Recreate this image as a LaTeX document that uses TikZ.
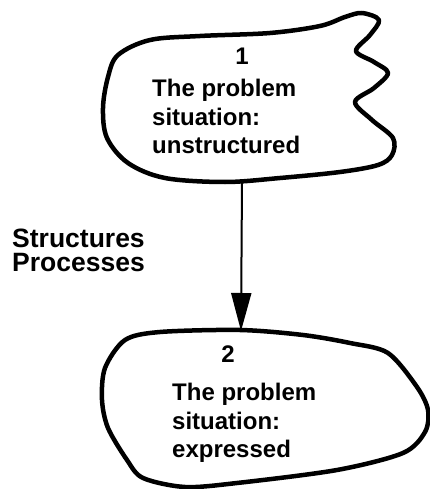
\documentclass[tikz,border=0pt]{standalone}
\usepackage{fontspec}
\setmainfont{Liberation Sans}
\usetikzlibrary{arrows.meta}
\begin{document}
\begin{tikzpicture}[x=1pt,y=-1pt,
  blob/.style={line width=4.5pt, line join=round},
  txt/.style={inner sep=0pt, align=left, anchor=north west,
    font=\bfseries\fontsize{24}{28.5}\selectfont},
  num/.style={inner sep=0pt, anchor=base, font=\bfseries\fontsize{24}{28.5}\selectfont},
  flow/.style={line width=2pt, -{Triangle[width=20pt,length=38pt]}}]
\useasboundingbox (0,0) rectangle (429,489);

% upper cloud: the unstructured situation
\draw[blob] plot[smooth cycle, tension=0.55] coordinates {
  (118,55) (150,40) (200,36) (270,33) (320,26) (345,17) (362,13)
  (379,20) (370,35) (356,51) (374,62) (388,73) (374,88) (355,102)
  (372,120) (393,138) (392,155) (378,165) (340,172) (280,178)
  (225,182) (165,178) (128,163) (107,138) (103,108) (108,77)};

% lower cloud: the expressed situation
\draw[blob] plot[smooth cycle, tension=0.5] coordinates {
  (125,340) (160,332) (240,330) (303,335) (350,343) (388,353)
  (417,387) (428,410) (425,432) (403,453) (337,470) (237,483)
  (185,487) (143,478) (127,460) (108,428) (102,400) (105,368)};

\node[num] (n1) at (242,65) {1};
\node[txt] (t1) at (152,79) {The problem\\situation:\\unstructured};

\node[num] (n2) at (228,362) {2};
\node[txt] (t2) at (172,383) {The problem\\situation:\\expressed};

\node[txt, font=\bfseries\fontsize{26.5}{24}\selectfont] (lab) at (12,229)
  {Structures\\Processes};

\coordinate (from) at (242,182);
\coordinate (to) at (241,331);
\draw[flow] (from) -- (to);
\end{tikzpicture}
\end{document}
